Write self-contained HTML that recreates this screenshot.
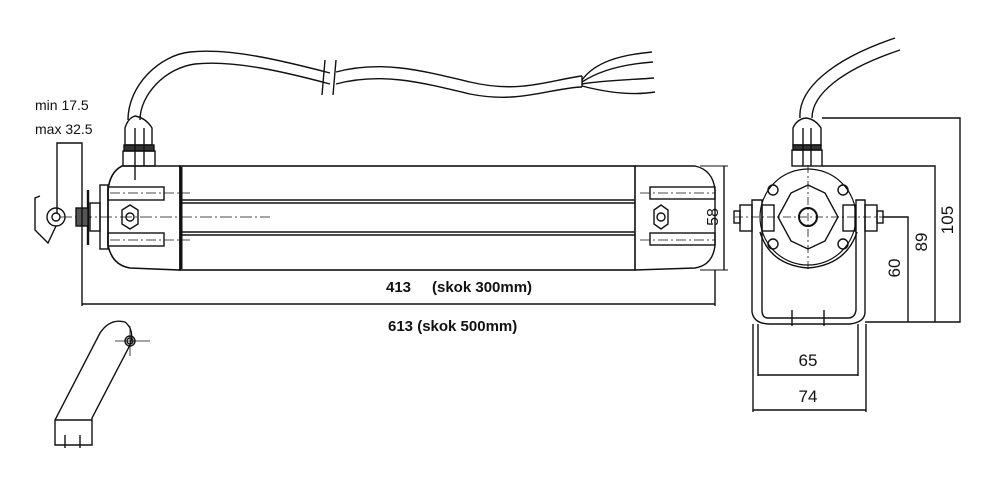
<!DOCTYPE html>
<html><head><meta charset="utf-8"><style>
html,body{margin:0;padding:0;background:#fff;width:1000px;height:482px;overflow:hidden}
svg{display:block}
text{font-family:"Liberation Sans",sans-serif;fill:#111}
</style></head><body>
<svg width="1000" height="482" viewBox="0 0 1000 482" xmlns="http://www.w3.org/2000/svg" fill="none" stroke="#111" stroke-width="1.4">
<!-- cable -->
<path d="M128 120 C128 85 160 55 190 52 C230 48 280 60 330 73"/>
<path d="M140 120 C140 95 165 68 195 64 C235 60 285 72 330 84"/>
<path d="M336 72 C380 60 420 70 470 82 C520 94 550 80 582 76"/>
<path d="M336 84 C380 72 420 82 470 94 C520 104 550 88 582 87"/>
<line x1="325" y1="60" x2="322" y2="95"/><line x1="336" y1="60" x2="333" y2="95"/>
<path d="M582 76 L582 87"/>
<path d="M582 80 C595 62 620 55 652 52"/>
<path d="M582 82 C600 70 625 64 653 62"/>
<path d="M582 84 C605 80 630 80 654 78"/>
<path d="M582 86 C605 92 630 96 655 92"/>
<!-- left gland -->
<path d="M125 145 L125 128 Q128 118 135 116 Q146 118 152 128 L152 145 Z"/>
<rect x="124" y="145" width="30" height="6" fill="#333"/>
<rect x="123" y="151" width="32" height="15"/>
<line x1="135" y1="128" x2="135" y2="180"/><line x1="144" y1="128" x2="144" y2="166"/>
<!-- main body -->
<path d="M180 166 L122 166 Q110 172 108 190 L108 245 Q112 265 130 268 L180 270 Z" stroke-width="1.6"/>
<rect x="180" y="166" width="455" height="104" stroke-width="1.6"/>
<line x1="181" y1="167" x2="181" y2="269" stroke-width="3"/>
<path d="M635 166 L695 166 Q713 170 715 190 L715 245 Q713 265 695 268 L635 270"/>
<line x1="180" y1="200" x2="635" y2="200"/><line x1="180" y1="203" x2="635" y2="203"/>
<line x1="180" y1="232" x2="635" y2="232"/><line x1="180" y1="235" x2="635" y2="235"/>
<rect x="108" y="187" width="56" height="13"/><rect x="108" y="233" width="56" height="13"/>
<rect x="650" y="187" width="65" height="12"/><rect x="650" y="233" width="65" height="12"/>
<path d="M60 217 H270" stroke-dasharray="12 3 2 3" stroke-width="0.8"/>
<path d="M110 193 H190 M110 240 H190 M640 193 H715 M640 240 H715" stroke-dasharray="10 3 2 3" stroke-width="0.8"/>
<polygon points="122,210 130,205 138,210 138,224 130,229 122,224"/>
<circle cx="130" cy="217" r="4"/>
<polygon points="654,210 661,205 668,210 668,224 661,229 654,224"/>
<circle cx="661" cy="217" r="4"/>
<!-- left fitting -->
<rect x="100" y="185" width="8" height="64"/>
<rect x="90" y="203" width="10" height="28"/>
<line x1="88" y1="190" x2="88" y2="245" stroke-width="2.4"/>
<rect x="76" y="208" width="12" height="18" fill="#555"/>
<circle cx="56" cy="217" r="9"/><circle cx="56" cy="217" r="4"/>
<path d="M40 196 L35 198 L35 230 L48 243 L56 226"/>
<!-- min/max -->
<text x="35" y="110" font-size="14" stroke="none">min 17.5</text>
<text x="35" y="134" font-size="14" stroke="none">max 32.5</text>
<polyline points="57,214 57,143 82,143 82,306"/>
<!-- dims -->
<line x1="82" y1="304" x2="715" y2="304"/>
<line x1="715" y1="270" x2="715" y2="306"/>
<text x="386" y="292" font-size="15" font-weight="bold" stroke="none">413</text>
<text x="432" y="292" font-size="15" font-weight="bold" stroke="none">(skok 300mm)</text>
<text x="388" y="331" font-size="15" font-weight="bold" stroke="none">613 (skok 500mm)</text>
<line x1="700" y1="166" x2="728" y2="166" stroke-width="0.9"/><line x1="700" y1="270" x2="728" y2="270" stroke-width="0.9"/>
<line x1="724" y1="166" x2="724" y2="270"/>
<text font-size="16" stroke="none" transform="translate(718,217) rotate(-90)" text-anchor="middle">58</text>
<!-- small bracket -->
<path d="M55 445 L55 420 L100 333 Q110 318 125 322 Q135 330 130 345 L92 418 L92 445 Z"/>
<line x1="55" y1="420" x2="92" y2="420"/>
<circle cx="130" cy="341" r="5"/><circle cx="130" cy="341" r="3"/>
<path d="M115 341 H150 M130 326 V356" stroke-width="0.8"/>
<line x1="65" y1="435" x2="65" y2="448"/><line x1="80" y1="435" x2="80" y2="448"/>
<!-- right view cable + gland -->
<path d="M800 118 C798 90 830 60 895 38 M812 118 C812 95 840 70 900 50"/>
<path d="M793 145 L793 128 Q797 119 806 118 Q815 119 821 128 L821 145 Z"/>
<rect x="793" y="145" width="28" height="5" fill="#333"/>
<rect x="792" y="150" width="30" height="16"/>
<line x1="803" y1="128" x2="803" y2="166"/><line x1="811" y1="128" x2="811" y2="166"/>
<!-- right view housing -->
<path d="M760 232 Q770 265 808 268 Q846 265 857 232"/>
<circle cx="808" cy="217" r="48" stroke-width="1.2"/>
<polygon points="808,185 825,193 838,217 825,241 808,249 791,241 778,217 791,193"/>
<circle cx="808" cy="217" r="9" stroke-width="2"/>
<circle cx="773" cy="190" r="5"/><circle cx="843" cy="190" r="5"/><circle cx="773" cy="244" r="5"/><circle cx="843" cy="244" r="5"/>
<path d="M735 217 H900 M808 165 V270" stroke-dasharray="8 3 2 3" stroke-width="0.8"/>
<!-- U bracket -->
<path d="M752 200 L752 312 Q754 324 770 324 L850 324 Q865 322 865 312 L865 200 L856 200 L856 310 Q855 318 848 318 L768 318 Q762 318 762 310 L762 200 Z"/>
<rect x="762" y="205" width="12" height="26"/><rect x="843" y="205" width="12" height="26"/>
<rect x="740" y="205" width="12" height="26"/><rect x="865" y="205" width="12" height="26"/>
<rect x="734" y="211" width="6" height="12"/><rect x="877" y="211" width="6" height="12"/>
<line x1="792" y1="310" x2="792" y2="326"/><line x1="824" y1="310" x2="824" y2="326"/>
<!-- right dims -->
<polyline points="822,118 960,118 960,322 865,322"/>
<polyline points="822,166 935,166 935,322"/>
<polyline points="883,217 908,217 908,322"/>
<line x1="758" y1="324" x2="758" y2="376"/><line x1="858" y1="324" x2="858" y2="376"/>
<line x1="758" y1="375" x2="858" y2="375"/>
<line x1="753" y1="324" x2="753" y2="412"/><line x1="866" y1="324" x2="866" y2="412"/>
<line x1="753" y1="410" x2="866" y2="410"/>
<text x="808" y="366" font-size="17" stroke="none" text-anchor="middle">65</text>
<text x="808" y="402" font-size="17" stroke="none" text-anchor="middle">74</text>
<text font-size="17" stroke="none" transform="translate(953,220) rotate(-90)" text-anchor="middle">105</text>
<text font-size="17" stroke="none" transform="translate(927,242) rotate(-90)" text-anchor="middle">89</text>
<text font-size="17" stroke="none" transform="translate(900,268) rotate(-90)" text-anchor="middle">60</text>
</svg>
</body></html>
